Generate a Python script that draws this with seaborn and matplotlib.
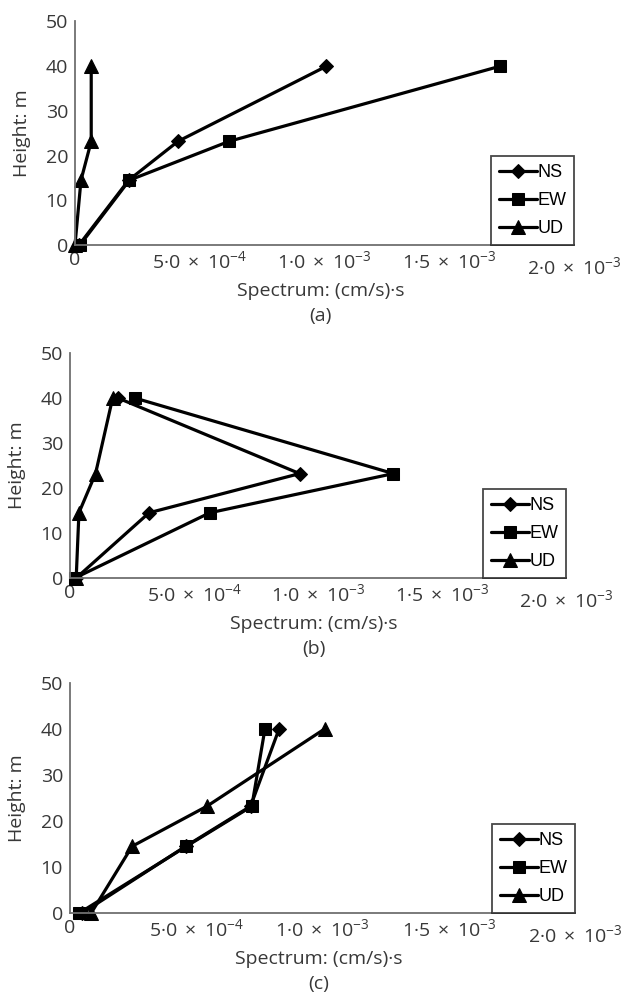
import matplotlib
matplotlib.use("Agg")
import matplotlib.pyplot as plt
import matplotlib.transforms as mtransforms
import numpy as np
import pandas as pd
import seaborn as sns

# ---------------- data ----------------
directions = ["NS", "EW", "UD"]
heights = [0, 14.5, 23.2, 40]

a_ns = [0.016e-3, 0.215e-3, 0.413e-3, 1.008e-3]
a_ew = [0.020e-3, 0.218e-3, 0.618e-3, 1.704e-3]
a_ud = [0.000e-3, 0.024e-3, 0.065e-3, 0.065e-3]

b_ns = [0.025e-3, 0.319e-3, 0.926e-3, 0.193e-3]
b_ew = [0.020e-3, 0.564e-3, 1.304e-3, 0.261e-3]
b_ud = [0.025e-3, 0.036e-3, 0.103e-3, 0.172e-3]

c_ns = [0.049e-3, 0.458e-3, 0.715e-3, 0.828e-3]
c_ew = [0.037e-3, 0.461e-3, 0.720e-3, 0.772e-3]
c_ud = [0.084e-3, 0.246e-3, 0.542e-3, 1.008e-3]

panel_labels = ["(a)", "(b)", "(c)"]
x_ticks = [0, 5e-4, 1e-3, 1.5e-3, 2e-3]
x_tick_labels = ["0",
                 "5·0 \u2009×\u2009 10$^{-4}$",
                 "1·0 \u2009×\u2009 10$^{-3}$",
                 "1·5 \u2009×\u2009 10$^{-3}$",
                 "2·0 \u2009×\u2009 10$^{-3}$"]
y_ticks = [0, 10, 20, 30, 40, 50]
x_label = "Spectrum: (cm/s)·s"
y_label = "Height: m"

# ---------------- style ----------------
sns.set_theme(style="white")
plt.rcParams["font.family"] = ["Open Sans", "DejaVu Sans"]
plt.rcParams["mathtext.fontset"] = "custom"
plt.rcParams["mathtext.rm"] = "Open Sans"
plt.rcParams["mathtext.it"] = "Open Sans"
plt.rcParams["mathtext.default"] = "regular"

TXT = "#383838"
SPINE = "#707070"
FS = 14

fig = plt.figure(figsize=(6.35, 9.92), dpi=100)
W, H = 635.0, 992.0

# axes boxes in pixel coordinates: left, right, top, bottom
boxes = [(75, 574, 21.5, 245), (70, 566, 353, 578), (70, 575, 683, 913)]

panels = [(a_ns, a_ew, a_ud), (b_ns, b_ew, b_ud), (c_ns, c_ew, c_ud)]
markers = {"NS": "D", "EW": "s", "UD": "^"}
msizes = {"NS": 7.5, "EW": 9, "UD": 10}

for i, (vals, box) in enumerate(zip(panels, boxes)):
    l, r, t, b = box
    wpx, hpx = r - l, b - t
    ax = fig.add_axes([l / W, 1 - b / H, wpx / W, hpx / H])
    rows = []
    for d, v in zip(directions, vals):
        for h, x in zip(heights, v):
            rows.append({"dir": d, "x": x, "h": h})
    df = pd.DataFrame(rows)
    for d in directions:
        sub = df[df["dir"] == d]
        sns.lineplot(data=sub, x="x", y="h", ax=ax, sort=False, estimator=None,
                     color="black", linewidth=2.3, marker=markers[d],
                     markersize=msizes[d], markeredgecolor="black",
                     markerfacecolor="black", label=d, clip_on=False)
    ax.set_xlim(0, 2e-3)
    ax.set_ylim(0, 50)
    ax.set_xticks(x_ticks)
    ax.set_xticklabels(x_tick_labels)
    ax.set_yticks(y_ticks)
    ax.set_yticklabels([str(y) for y in y_ticks])
    for s in ["top", "right"]:
        ax.spines[s].set_visible(False)
    for s in ["left", "bottom"]:
        ax.spines[s].set_color(SPINE)
        ax.spines[s].set_linewidth(1.3)
    ax.tick_params(axis="both", direction="in", length=5.5, width=1.2,
                   color=SPINE, labelcolor=TXT, labelsize=FS)
    ax.tick_params(axis="x", pad=4)
    ax.tick_params(axis="y", pad=5)
    ax.set_xlabel(x_label, fontsize=FS, color=TXT)
    ax.xaxis.set_label_coords(0.5 - 4 / wpx, -46 / hpx)
    ax.xaxis.label.set_va("center")
    ax.set_ylabel(y_label, fontsize=FS, color=TXT)
    ax.yaxis.set_label_coords(-53 / wpx, 0.5)
    ax.yaxis.label.set_va("center")
    # last x tick label sits slightly lower in the reference
    lab = ax.get_xticklabels()[-1]
    lab.set_transform(lab.get_transform() +
                      mtransforms.ScaledTranslation(0, -4 / 72, fig.dpi_scale_trans))
    leg = ax.legend(loc="lower right", bbox_to_anchor=(1.0, 0.0), borderaxespad=0,
                    frameon=True, fancybox=False, handlelength=2.15,
                    handletextpad=0.0, labelspacing=0.62, borderpad=0.42,
                    edgecolor="#1a1a1a",
                    prop={"family": "Liberation Sans", "size": 13})
    leg.get_frame().set_linewidth(1.3)
    leg.set_zorder(10)
    for txt in leg.get_texts():
        txt.set_color("black")
    ax.text(0.5 - 4 / wpx, -71 / hpx, panel_labels[i], transform=ax.transAxes,
            ha="center", va="center", fontsize=FS, color=TXT)

fig.savefig("out.png", dpi=100)
